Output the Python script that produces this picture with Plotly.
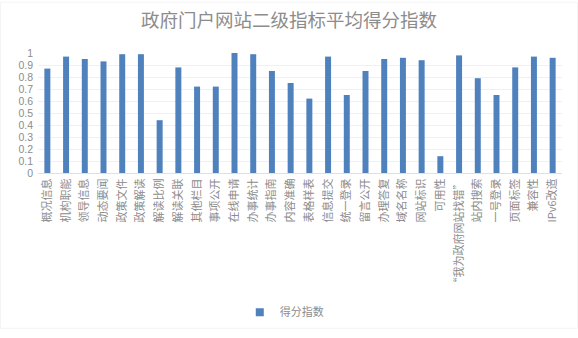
import plotly.graph_objects as go

categories = [
    "概况信息", "机构职能", "领导信息", "动态要闻", "政策文件", "政策解读", "解读比例",
    "解读关联", "其他栏目", "事项公开", "在线申请", "办事统计", "办事指南", "内容准确",
    "表格样表", "信息提交", "统一登录", "留言公开", "办理答复", "域名名称", "网站标识",
    "可用性", "“我为政府网站找错”", "站内搜索", "一号登录", "页面标签", "兼容性", "IPv6改造",
]
scores = [
    0.87, 0.97, 0.95, 0.93, 0.99, 0.99, 0.44,
    0.88, 0.72, 0.72, 1.00, 0.99, 0.85, 0.75,
    0.62, 0.97, 0.65, 0.85, 0.95, 0.96, 0.94,
    0.14, 0.98, 0.79, 0.65, 0.88, 0.97, 0.96,
]
series_name = "得分指数"
title_text = "政府门户网站二级指标平均得分指数"

font_family = "Noto Sans CJK SC, Noto Sans, sans-serif"
text_grey = "#8c8c8c"
bar_blue = "#4F81BD"

W, H = 578, 338
M_L, M_R, M_T, M_B = 38, 16, 53, 161
plot_w = W - M_L - M_R
plot_h = H - M_T - M_B

fig = go.Figure()
fig.add_trace(
    go.Bar(
        x=categories,
        y=scores,
        name=series_name,
        marker=dict(color=bar_blue, line=dict(width=0)),
        showlegend=False,
    )
)
# legend entry with a small square swatch
fig.add_trace(
    go.Scatter(
        x=[None],
        y=[None],
        mode="markers",
        name=series_name,
        marker=dict(symbol="square", size=8, color=bar_blue),
        showlegend=True,
    )
)

# faint outline around the whole chart area
fig.add_shape(
    type="rect",
    xref="paper",
    yref="paper",
    x0=(0.5 - M_L) / plot_w,
    x1=(W - 0.5 - M_L) / plot_w,
    y0=(H - M_B - (H - 0.5)) / plot_h,
    y1=(H - M_B - 0.5) / plot_h,
    line=dict(color="#f4f4f4", width=1),
    fillcolor="rgba(0,0,0,0)",
    layer="below",
)

fig.update_layout(
    width=W,
    height=H,
    paper_bgcolor="white",
    plot_bgcolor="white",
    margin=dict(l=M_L, r=M_R, t=M_T, b=M_B),
    bargap=0.68,
    font=dict(family=font_family, color=text_grey, size=11),
    title=dict(
        text=title_text,
        x=0.5,
        xanchor="center",
        y=0.94,
        yanchor="middle",
        font=dict(size=18.5, color=text_grey, family=font_family),
    ),
    legend=dict(
        orientation="h",
        x=0.47,
        xanchor="center",
        y=-1.16,
        yanchor="middle",
        font=dict(size=11, color=text_grey),
        itemwidth=30,
    ),
    xaxis=dict(
        tickangle=-90,
        showgrid=False,
        showline=True,
        linecolor="#e0e0e0",
        ticks="",
        tickfont=dict(size=11, color=text_grey),
    ),
    yaxis=dict(
        range=[0, 1.0],
        dtick=0.1,
        showgrid=True,
        gridcolor="#f0f0f0",
        zeroline=False,
        ticks="",
        ticklabelstandoff=4,
        tickfont=dict(size=10.5, color=text_grey, family="Liberation Sans, Arial, sans-serif"),
    ),
)

fig.write_html("out.html")
